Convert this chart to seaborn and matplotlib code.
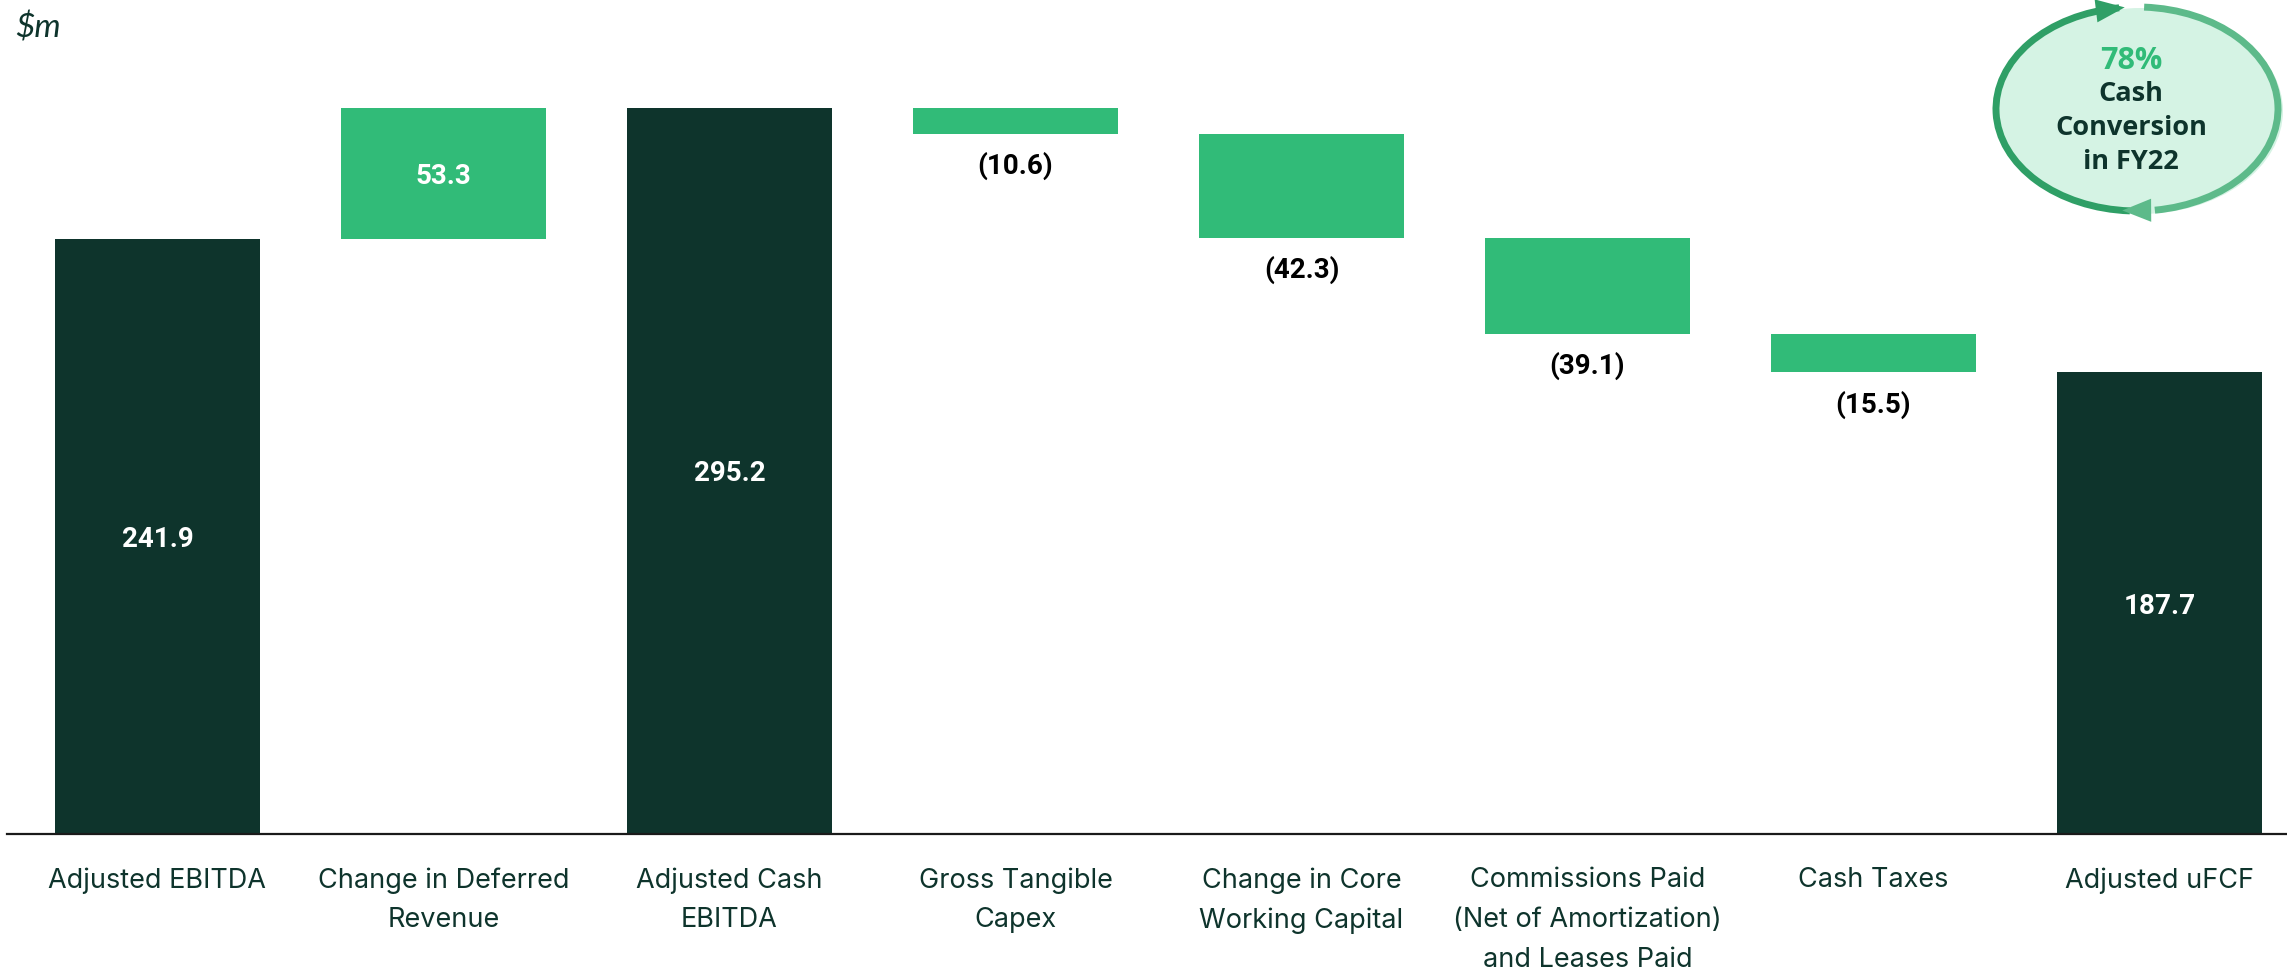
import numpy as np
import pandas as pd
import matplotlib
matplotlib.use('Agg')
import matplotlib.pyplot as plt
from matplotlib.patches import Ellipse, Arc
import seaborn as sns

# Chart data
categories = ['Adjusted EBITDA', 'Change in Deferred\nRevenue', 'Adjusted Cash\nEBITDA',
              'Gross Tangible\nCapex', 'Change in Core\nWorking Capital',
              'Commissions Paid\n(Net of Amortization)\nand Leases Paid',
              'Cash Taxes', 'Adjusted uFCF']
values = [241.9, 53.3, 295.2, -10.6, -42.3, -39.1, -15.5, 187.7]
kinds = ['total', 'delta', 'total', 'delta', 'delta', 'delta', 'delta', 'total']
value_labels = ['241.9', '53.3', '295.2', '(10.6)', '(42.3)', '(39.1)', '(15.5)', '187.7']
badge_pct = '78%'
badge_text = 'Cash\nConversion\nin FY22'

DARK = '#0E342C'
GREEN = '#31BB78'
TEXT = '#0E342C'

W, H = 2287, 972

# waterfall geometry from the values
bottoms, heights = [], []
running = 0.0
for v, k in zip(values, kinds):
    if k == 'total':
        bottoms.append(0.0)
        heights.append(v)
        running = v
    elif v >= 0:
        bottoms.append(running)
        heights.append(v)
        running += v
    else:
        running += v
        bottoms.append(running)
        heights.append(-v)

df = pd.DataFrame({'category': categories, 'height': heights, 'kind': kinds})
colors = [DARK if k == 'total' else GREEN for k in kinds]

sns.set_theme(style='white')
plt.rcParams['font.family'] = ['Inter', 'DejaVu Sans']

fig = plt.figure(figsize=(W / 100, H / 100), dpi=100)
ax = fig.add_axes([7 / W, 138 / H, 1 - 7 / W, 834 / H])

sns.barplot(data=df, x='category', y='height', hue='category', palette=colors,
            width=0.714, legend=False, ax=ax, saturation=1)

for i, p in enumerate(ax.patches):
    p.set_y(bottoms[i])
    p.set_edgecolor('none')

ax.set_xlim(-0.526, 7.446)
ax.set_ylim(0, 339)
ax.set_xlabel('')
ax.set_ylabel('')
ax.set_yticks([])
for s in ['left', 'right', 'top']:
    ax.spines[s].set_visible(False)
ax.spines['bottom'].set_color('#1a1a1a')
ax.spines['bottom'].set_linewidth(1.6)
ax.tick_params(axis='x', length=0, pad=24)
for t in ax.get_xticklabels():
    t.set_fontsize(19.5)
    t.set_color(TEXT)
    t.set_linespacing(1.68)
    t.set_va('top')

# value labels
for i, (b, h, k, v) in enumerate(zip(bottoms, heights, kinds, values)):
    if k == 'total' or v > 0:
        ax.text(i, b + h / 2, value_labels[i], ha='center', va='center_baseline',
                color='white', fontsize=20, fontweight='bold', family=['Roboto', 'DejaVu Sans'])
    else:
        ax.annotate(value_labels[i], (i, b), xytext=(0, -21), textcoords='offset points',
                    ha='center', va='center_baseline', color='black', fontsize=20,
                    fontweight='bold', family=['Roboto', 'DejaVu Sans'])

# overlay in pixel coordinates for unit label and badge
ov = fig.add_axes([0, 0, 1, 1])
ov.set_xlim(0, W)
ov.set_ylim(0, H)
ov.axis('off')
ov.patch.set_alpha(0)

ov.text(15, H - 28, '$m', fontsize=24, fontstyle='italic', color=TEXT,
        ha='left', va='center', family=['Lato', 'DejaVu Sans'])

cx, cy = 2137, H - 109
ew, eh = 282, 204
ov.add_patch(Ellipse((cx + 4, cy - 2), ew + 2, eh + 2, facecolor='#D5F3E4', edgecolor='none'))
ov.add_patch(Arc((cx, cy), ew, eh, theta1=100, theta2=266, color='#2F9F66', lw=5))
ov.add_patch(Arc((cx, cy), ew, eh, theta1=-80, theta2=86, color='#5DBA8A', lw=5))


def pt(deg):
    r = np.deg2rad(deg)
    return cx + ew / 2 * np.cos(r), cy + eh / 2 * np.sin(r)


head = '-|>,head_length=0.8,head_width=0.32'
ov.annotate('', xy=pt(95), xytext=pt(104),
            arrowprops=dict(arrowstyle=head, color='#2F9F66', mutation_scale=26,
                            lw=0, shrinkA=0, shrinkB=0))
ov.annotate('', xy=pt(264), xytext=pt(277),
            arrowprops=dict(arrowstyle=head, color='#5DBA8A', mutation_scale=26,
                            lw=0, shrinkA=0, shrinkB=0))

ov.text(2131, H - 61, badge_pct, ha='center', va='center', fontsize=22,
        fontweight='bold', color=GREEN, family=['Open Sans', 'DejaVu Sans'])
ov.text(2131, H - 128, badge_text, ha='center', va='center', fontsize=19.5,
        fontweight='bold', color=TEXT, linespacing=1.38, family=['Open Sans', 'DejaVu Sans'])

fig.savefig('out.png', dpi=100, facecolor='white')
